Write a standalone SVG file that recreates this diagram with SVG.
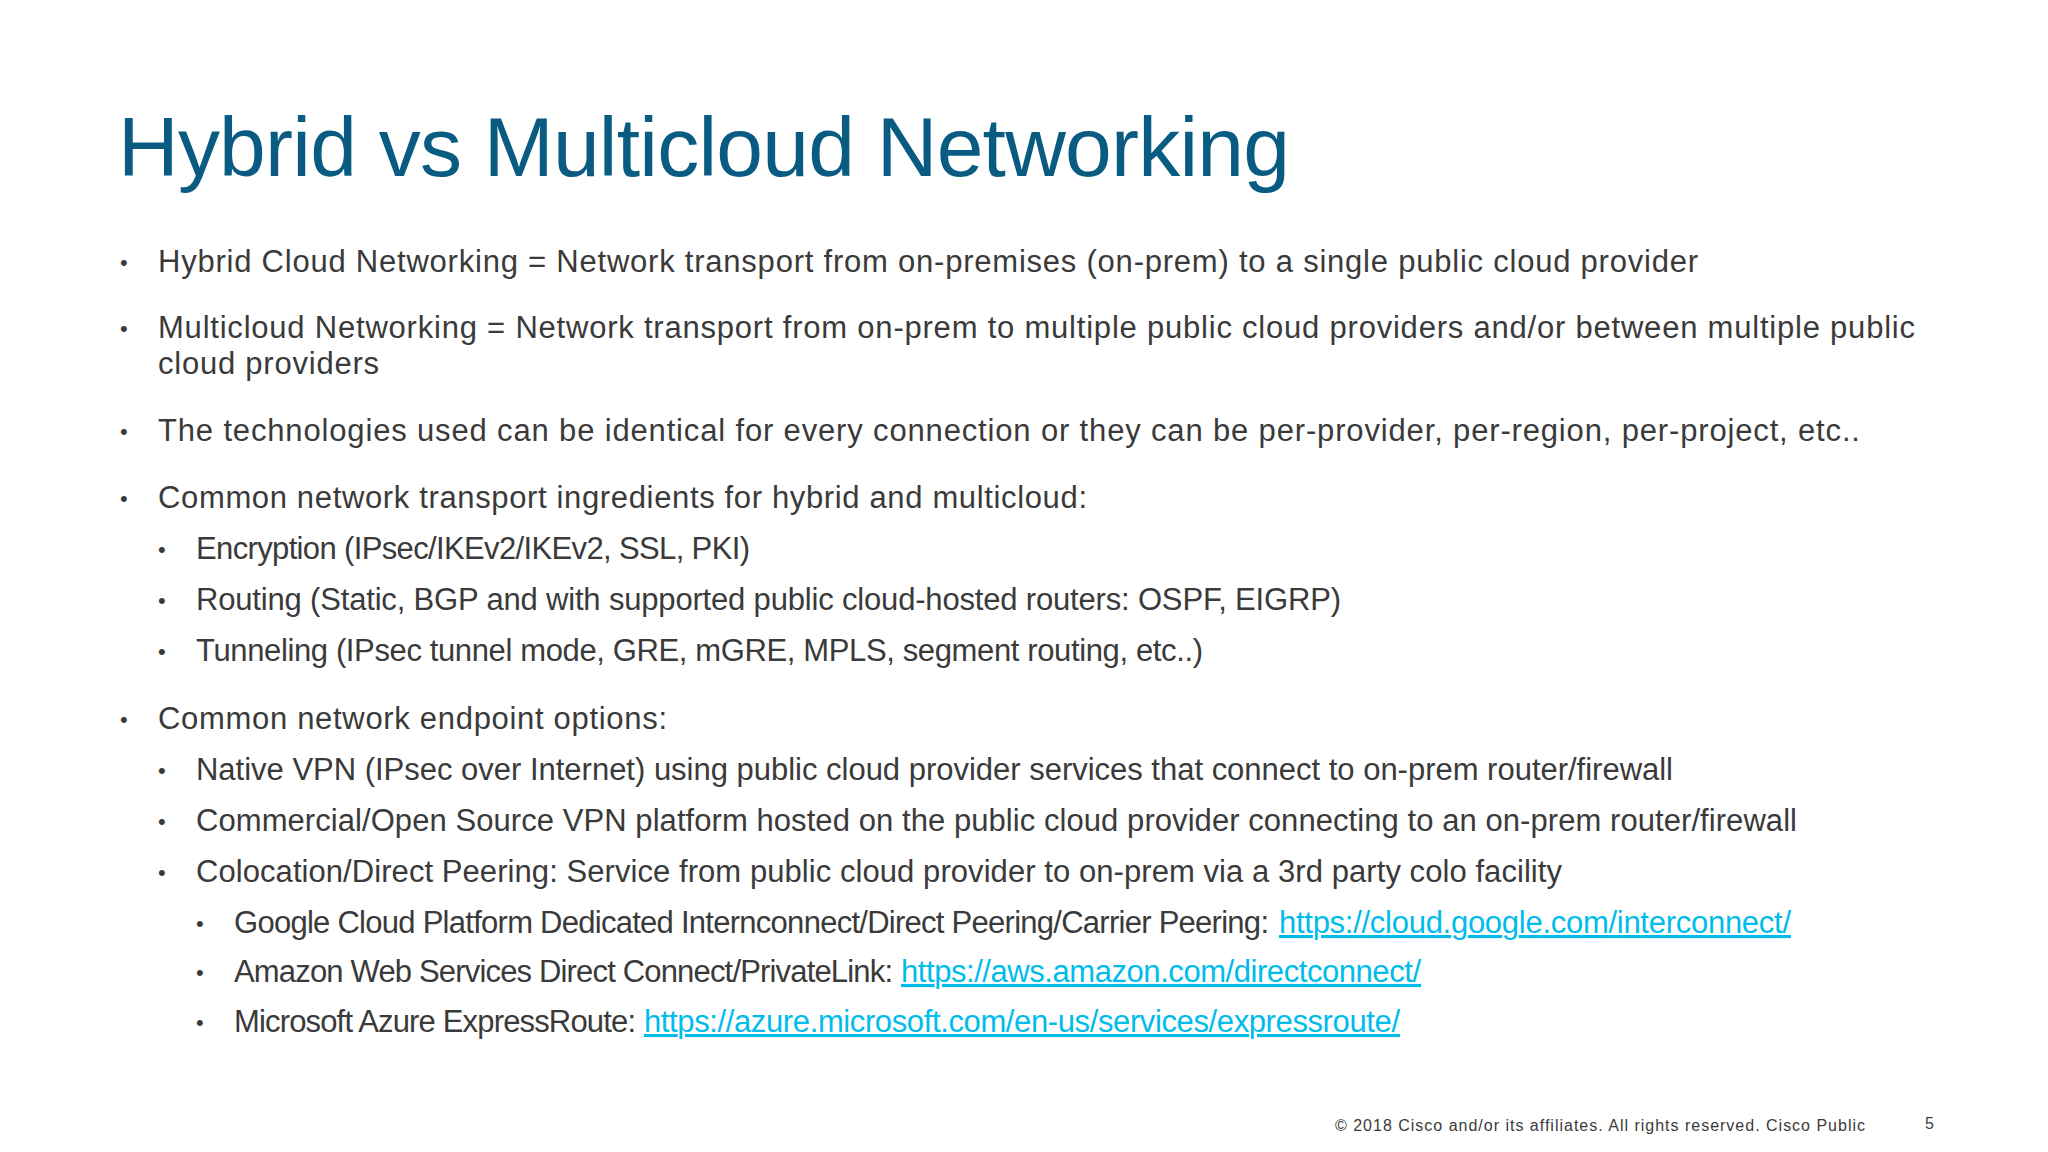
<svg xmlns="http://www.w3.org/2000/svg" width="2048" height="1152" viewBox="0 0 2048 1152">
<style>
text{font-family:"Liberation Sans",Arial,sans-serif;fill:#3a3a3a}
.t{font-size:31px}
.b{font-size:22px}
.l{fill:#00bceb;text-decoration:underline}
</style>
<rect width="2048" height="1152" fill="#ffffff"/>
<g id="title"><text x="118" y="176" textLength="1172" style="font-size:84px;fill:#0a5b82">Hybrid vs Multicloud Networking</text></g>
<g id="body">
<text class="b" x="120" y="270">•</text><text class="t" x="158" y="272" textLength="1540">Hybrid Cloud Networking = Network transport from on-premises (on-prem) to a single public cloud provider</text>
<text class="b" x="120" y="336">•</text><text class="t" x="158" y="338" textLength="1757">Multicloud Networking = Network transport from on-prem to multiple public cloud providers and/or between multiple public</text>
<text class="t" x="158" y="374" textLength="221">cloud providers</text>
<text class="b" x="120" y="439">•</text><text class="t" x="158" y="441" textLength="1702">The technologies used can be identical for every connection or they can be per-provider, per-region, per-project, etc..</text>
<text class="b" x="120" y="506">•</text><text class="t" x="158" y="508" textLength="929">Common network transport ingredients for hybrid and multicloud:</text>
<text class="b" x="158" y="557">•</text><text class="t" x="196" y="559" textLength="554">Encryption (IPsec/IKEv2/IKEv2, SSL, PKI)</text>
<text class="b" x="158" y="608">•</text><text class="t" x="196" y="610" textLength="1145">Routing (Static, BGP and with supported public cloud-hosted routers: OSPF, EIGRP)</text>
<text class="b" x="158" y="659">•</text><text class="t" x="196" y="661" textLength="1007">Tunneling (IPsec tunnel mode, GRE, mGRE, MPLS, segment routing, etc..)</text>
<text class="b" x="120" y="727">•</text><text class="t" x="158" y="729" textLength="509">Common network endpoint options:</text>
<text class="b" x="158" y="778">•</text><text class="t" x="196" y="780" textLength="1477">Native VPN (IPsec over Internet) using public cloud provider services that connect to on-prem router/firewall</text>
<text class="b" x="158" y="829">•</text><text class="t" x="196" y="831" textLength="1601">Commercial/Open Source VPN platform hosted on the public cloud provider connecting to an on-prem router/firewall</text>
<text class="b" x="158" y="880">•</text><text class="t" x="196" y="882" textLength="1366">Colocation/Direct Peering: Service from public cloud provider to on-prem via a 3rd party colo facility</text>
<text class="b" x="196" y="931">•</text><text class="t" x="234" y="933" textLength="1035">Google Cloud Platform Dedicated Internconnect/Direct Peering/Carrier Peering:</text><text class="t l" x="1279" y="933" textLength="512">https://cloud.google.com/interconnect/</text>
<text class="b" x="196" y="980">•</text><text class="t" x="234" y="982" textLength="659">Amazon Web Services Direct Connect/PrivateLink:</text><text class="t l" x="901" y="982" textLength="520">https://aws.amazon.com/directconnect/</text>
<text class="b" x="196" y="1030">•</text><text class="t" x="234" y="1032" textLength="402">Microsoft Azure ExpressRoute:</text><text class="t l" x="644" y="1032" textLength="756">https://azure.microsoft.com/en-us/services/expressroute/</text>
</g>
<g id="footer">
<text x="1335" y="1131" textLength="530" style="font-size:16px">© 2018  Cisco and/or its affiliates. All rights reserved.   Cisco Public</text>
<text x="1925" y="1129" style="font-size:16px">5</text>
</g>
</svg>
